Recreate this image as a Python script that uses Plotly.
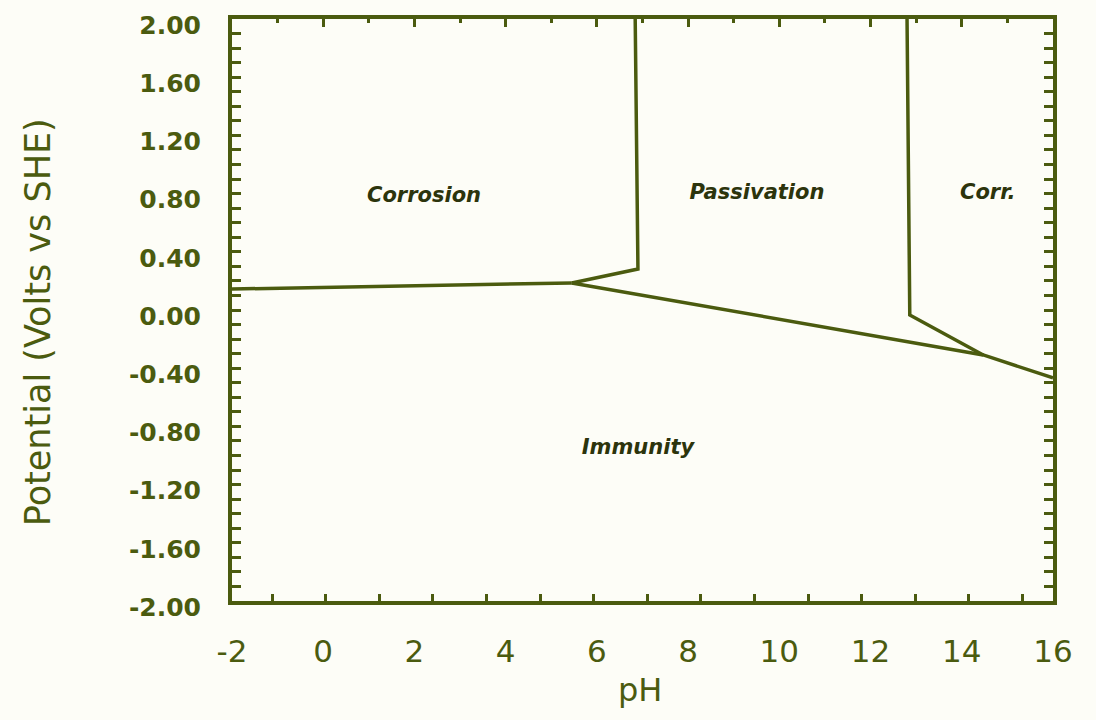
import plotly.graph_objects as go

# Pourbaix (potential-pH) diagram for cobalt in water
INK = "#4b5b0f"
DARK = "#2c340c"

# Boundary lines (pH, potential in V vs SHE)
acid_ph = [-2.0, 5.45]
acid_e = [0.144, 0.186]

passive_left_ph = [5.45, 6.90, 6.84]
passive_left_e = [0.186, 0.282, 2.0]

immunity_ph = [5.45, 14.47, 16.0]
immunity_e = [0.186, -0.309, -0.467]

alkaline_ph = [12.80, 12.86, 14.47]
alkaline_e = [2.0, -0.034, -0.309]

# Region names and where they sit
region_names = ["Corrosion", "Passivation", "Corr.", "Immunity"]
region_ph = [2.21, 9.51, 14.57, 6.90]
region_e = [0.775, 0.800, 0.800, -0.955]

# Axis ticks
x_ticks = [-2, 0, 2, 4, 6, 8, 10, 12, 14, 16]
x_tick_labels = ["-2", "0", "2", "4", "6", "8", "10", "12", "14", "16"]
y_ticks = [2.0, 1.6, 1.2, 0.8, 0.4, 0.0, -0.4, -0.8, -1.2, -1.6, -2.0]
y_tick_labels = ["2.00", "1.60", "1.20", "0.80", "0.40", "0.00",
                 "-0.40", "-0.80", "-1.20", "-1.60", "-2.00"]

fig = go.Figure()

for xs, ys in [(acid_ph, acid_e), (passive_left_ph, passive_left_e),
               (immunity_ph, immunity_e), (alkaline_ph, alkaline_e)]:
    fig.add_trace(go.Scatter(x=xs, y=ys, mode="lines",
                             line=dict(color=INK, width=3.5),
                             hoverinfo="skip", showlegend=False))

fig.add_trace(go.Scatter(
    x=region_ph, y=region_e, mode="text", text=region_names,
    textfont=dict(family="DejaVu Sans", size=21, color=DARK,
                  weight="bold", style="italic"),
    hoverinfo="skip", showlegend=False))

x_range = [-2, 16]

fig.update_layout(
    width=1096, height=720,
    margin=dict(l=232, r=43, t=19, b=119, autoexpand=False),
    paper_bgcolor="#fdfdf7",
    plot_bgcolor="#fdfdf7",
    showlegend=False,
    xaxis=dict(
        range=x_range, tickmode="array", tickvals=x_ticks, ticktext=x_tick_labels,
        ticks="", showgrid=False, zeroline=False, automargin=False,
        showline=True, linewidth=4, linecolor=INK, mirror=True,
        tickfont=dict(family="DejaVu Sans", size=31, color=INK),
        ticklabelstandoff=20,
    ),
    xaxis2=dict(
        range=x_range, overlaying="x", anchor="y", side="top", automargin=False,
        tick0=0, dtick=2, ticks="inside", ticklen=8, tickwidth=2.5, tickcolor=INK,
        minor=dict(dtick=1, ticks="inside", ticklen=4, tickwidth=2.5, tickcolor=INK),
        showticklabels=False, showgrid=False, zeroline=False, showline=False,
    ),
    xaxis3=dict(
        range=x_range, overlaying="x", anchor="y", side="bottom", automargin=False,
        tick0=-1.12, dtick=1.175, ticks="inside", ticklen=7, tickwidth=2.5, tickcolor=INK,
        minor=dict(ticks="inside", ticklen=3, tickwidth=2.5, tickcolor=INK),
        showticklabels=False, showgrid=False, zeroline=False, showline=False,
    ),
    yaxis=dict(
        range=[-2, 2], tickmode="array", tickvals=y_ticks, ticktext=y_tick_labels,
        ticks="inside", ticklen=9, tickwidth=2.5, tickcolor=INK,
        minor=dict(dtick=0.1, ticks="inside", ticklen=4, tickwidth=2.5, tickcolor=INK),
        showgrid=False, zeroline=False, automargin=False,
        showline=True, linewidth=4, linecolor=INK, mirror="allticks",
        tickfont=dict(family="DejaVu Sans", size=25, color=INK, weight="bold"),
        ticklabelstandoff=22, ticklabelshift=6,
    ),
    annotations=[
        dict(text="Potential (Volts vs SHE)", textangle=-90,
             xref="paper", yref="paper", x=0, y=0.479,
             xanchor="center", yanchor="middle", xshift=-194, showarrow=False,
             font=dict(family="DejaVu Sans", size=35, color=INK)),
        dict(text="pH", xref="paper", yref="paper", x=0.497, y=0,
             xanchor="center", yanchor="middle", yshift=-89, showarrow=False,
             font=dict(family="DejaVu Sans", size=32, color=INK)),
    ],
)

# Attach the extra tick-only axes so they render
fig.add_trace(go.Scatter(x=[None], y=[None], xaxis="x2", showlegend=False, hoverinfo="skip"))
fig.add_trace(go.Scatter(x=[None], y=[None], xaxis="x3", showlegend=False, hoverinfo="skip"))

fig.write_html("out.html")
